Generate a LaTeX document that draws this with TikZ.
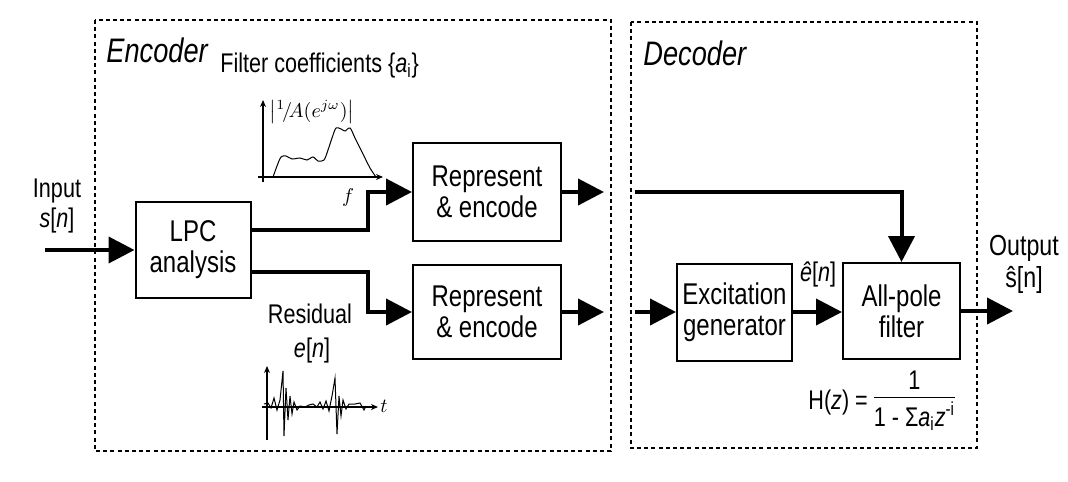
\documentclass[tikz,border=0pt]{standalone}
\usepackage{fontspec}
\setmainfont{Liberation Sans}[FakeStretch=0.8]
\usetikzlibrary{arrows.meta,positioning}

\begin{document}
\begin{tikzpicture}[x=0.5pt,y=-0.5pt,
  block/.style={draw,line width=1pt,align=center,inner sep=0pt,font=\fontsize{15}{15.5}\selectfont},
  sig/.style={line width=2pt,-{Triangle[length=13pt,width=13pt]}},
  frame/.style={line width=0.8pt,dash pattern=on 2pt off 1.6pt},
  lbl/.style={font=\fontsize{13.5}{15}\selectfont,inner sep=0pt},
  title/.style={font=\fontsize{17}{19}\selectfont\itshape,inner sep=0pt,anchor=west},
  axis/.style={line width=0.6pt,-{Stealth[length=3.5pt,width=3pt]}},
  trace/.style={line width=0.5pt},
  tiny/.style={font=\fontsize{10}{12}\selectfont,inner sep=0pt}]

  \useasboundingbox (0,0) rectangle (1068,481);

  %% the two dashed frames
  \draw[frame] (95,20) rectangle (611,451);
  \draw[frame] (631,22) rectangle (977,448);
  \node[title] (enc) at (106,50) {Encoder};
  \node[title] (dec) at (643,53) {Decoder};

  %% blocks
  \node[block,minimum width=57.5pt,minimum height=48pt] (lpc) at (193,250) {LPC\\analysis};
  \node[block,minimum width=74pt,minimum height=49pt] (rep1) at (487,192) {Represent\\\& encode};
  \node[block,minimum width=74pt,minimum height=47pt] (rep2) at (487,312) {Represent\\\& encode};
  \node[block,minimum width=57.5pt,minimum height=48.5pt] (exc) at (734.5,312) {Excitation\\generator};
  \node[block,minimum width=58.5pt,minimum height=48pt] (apf) at (901.5,311) {All-pole\\filter};

  %% free ends of the connectors
  \coordinate (in) at (45,250);
  \coordinate (o1) at (604,192);
  \coordinate (o2) at (604,312);
  \coordinate (d1) at (635,192);
  \coordinate (d2) at (635,312);
  \coordinate (out) at (1013,311);

  \draw[sig] (in) -- (lpc);
  \draw[sig] ([yshift=10pt]lpc.east) -- ++(116,0) |- (rep1);
  \draw[sig] ([yshift=-11pt]lpc.east) -- ++(116,0) |- (rep2);
  \draw[sig] (rep1) -- (o1);
  \draw[sig] (rep2) -- (o2);
  \draw[sig] (d1) -| (apf);
  \draw[sig] (d2) -- (exc);
  \draw[sig] (exc) -- (exc -| apf.west);
  \draw[sig] (apf) -- (out);

  %% labels
  \node[lbl,anchor=west] (coef) at (220,66) {Filter coefficients \{\textit{a}\textsubscript{i}\}};
  \node[lbl,align=center] (inp) at (57,206) {Input\\\textit{s}[\textit{n}]};
  \node[lbl] (res) at (310,314) {Residual};
  \node[lbl] (en) at (312,351) {\textit{e}[\textit{n}]};
  \node[lbl] (ehat) at (818,274) {\textit{ê}[\textit{n}]};
  \node[lbl,align=center,font=\fontsize{14.5}{16}\selectfont] (outp) at (1024,264) {Output\\ŝ[n]};
  \node[lbl,anchor=west] (hz) at (808,402) {H(\textit{z}) = \setlength{\arrayrulewidth}{0.9pt}%
    \begin{tabular}{@{}c@{}}1\\[-1pt]\hline\rule{0pt}{14pt}1 - Σ\textit{a}\textsubscript{i}\textit{z}\textsuperscript{-i}\end{tabular}};

  %% spectrum sketch
  \draw[axis] (263,182) -- (263,100);
  \draw[axis] (258,177) -- (383,177);
  \draw[trace] plot[smooth] coordinates {(273,177) (277,166) (281,157) (286,156) (292,159)
    (300,158) (307,160) (313,157) (318,161) (324,160) (328,150) (332,138) (336,128)
    (341,129) (345,131) (350,128) (355,138) (362,152) (370,168) (376,177)};
  \node[tiny] (mag) at (312,112) {$\left|{}^{1}\!/\!A(e^{j\omega})\right|$};
  \node[tiny] (fq) at (348,197) {$f$};

  %% residual sketch
  \draw[axis] (267,440) -- (267,366);
  \draw[axis] (262,407) -- (378,407);
  \draw[trace] plot coordinates {(264,404) (268,403) (271,408) (274,398) (277,410) (280,400)
    (283,371) (284,436) (286,388) (288,420) (290,396) (292,414) (294,402) (297,410)
    (300,406) (305,407) (309,405) (313,404) (317,407) (320,402) (323,409) (326,401)
    (329,411) (332,396) (335,378) (337,434) (339,396) (341,416) (343,400) (346,409)
    (349,404) (355,404) (360,403) (364,410) (366,406)};
  \node[tiny] (tm) at (384,406) {$t$};
\end{tikzpicture}
\end{document}
